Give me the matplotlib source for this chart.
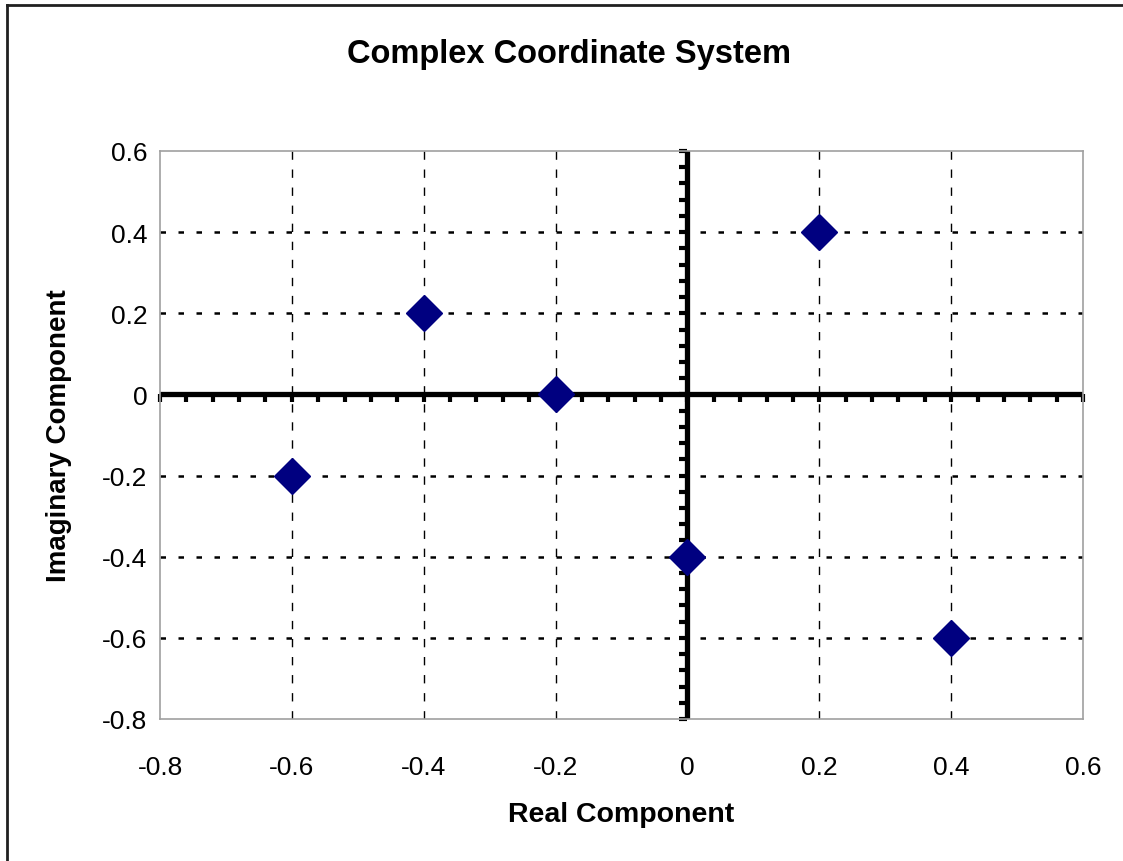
import numpy as np
import matplotlib
matplotlib.use("Agg")
import matplotlib.pyplot as plt
from matplotlib.lines import Line2D

plt.rcParams['font.family'] = ['Liberation Sans', 'DejaVu Sans']

# --- Data ---
real_part = [-0.6, -0.4, -0.2, 0.0, 0.2, 0.4]
imag_part = [-0.2, 0.2, 0.0, -0.4, 0.4, -0.6]

x_ticks = [-0.8, -0.6, -0.4, -0.2, 0.0, 0.2, 0.4, 0.6]
y_ticks = [-0.8, -0.6, -0.4, -0.2, 0.0, 0.2, 0.4, 0.6]
x_labels = ['-0.8', '-0.6', '-0.4', '-0.2', '0', '0.2', '0.4', '0.6']
y_labels = ['-0.8', '-0.6', '-0.4', '-0.2', '0', '0.2', '0.4', '0.6']

W, H = 1123, 862
fig = plt.figure(figsize=(W / 100, H / 100), dpi=100)
ax = fig.add_axes([160 / W, 1 - 720 / H, (1083 - 160) / W, (720 - 152) / H])

ax.set_xlim(-0.8, 0.6)
ax.set_ylim(-0.8, 0.6)

# gray plot-area frame
for s in ax.spines.values():
    s.set_color('#a0a0a0')
    s.set_linewidth(1.2)

ax.set_xticks(x_ticks, x_labels)
ax.set_yticks(y_ticks, y_labels)
ax.tick_params(length=0, labelsize=19)
ax.tick_params(axis='x', pad=26)
ax.tick_params(axis='y', pad=9)

# dotted gridlines
for v in x_ticks[1:-1]:
    ax.axvline(v, color='black', lw=1.0, ls=(0, (6, 7)), zorder=1)
for v in y_ticks[1:-1]:
    ax.axhline(v, color='black', lw=1.8, ls=(0, (2.2, 5)), zorder=1)

# thick zero axes with minor tick marks
ax.axhline(0, color='black', lw=3.8, zorder=2)
ax.axvline(0, color='black', lw=3.8, zorder=2)
minor = np.arange(-0.8, 0.6001, 0.04)
ax.plot(minor, np.zeros_like(minor), ls='none', marker=3, ms=6, mew=3,
        color='black', zorder=2, clip_on=False)
ax.plot(np.zeros_like(minor), minor, ls='none', marker=0, ms=6, mew=3,
        color='black', zorder=2, clip_on=False)

# data points
ax.plot(real_part, imag_part, ls='none', marker='D', ms=18,
        color='#000080', zorder=3)

fig.text(569 / W, 1 - 55 / H, 'Complex Coordinate System', ha='center',
         va='center', fontsize=23.5, fontweight='bold')
ax.set_xlabel('Real Component', fontsize=20.5, fontweight='bold', labelpad=16)
ax.set_ylabel('Imaginary Component', fontsize=20, fontweight='bold', labelpad=22)

# outer chart border (left and top edges visible)
bx, by = 7 / W, 1 - 6 / H
fig.add_artist(Line2D([bx, bx], [0, by], transform=fig.transFigure,
                      color='#202020', lw=2))
fig.add_artist(Line2D([bx, 1], [by, by], transform=fig.transFigure,
                      color='#202020', lw=2))

fig.savefig('out.png', dpi=100)
